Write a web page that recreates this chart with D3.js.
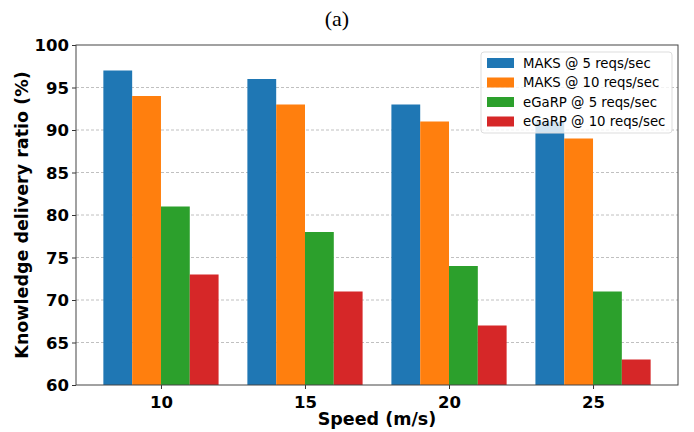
<!DOCTYPE html>
<html>
<head>
<meta charset="utf-8">
<script src="https://cdn.jsdelivr.net/npm/d3@7"></script>
<style>
  body { margin: 0; background: #fff; }
  svg { display: block; }
</style>
</head>
<body>
<div id="chart"></div>
<script>
const speeds = ["10", "15", "20", "25"];
const seriesNames = ["MAKS @ 5 reqs/sec", "MAKS @ 10 reqs/sec", "eGaRP @ 5 reqs/sec", "eGaRP @ 10 reqs/sec"];
const maks5 = [97, 96, 93, 91];
const maks10 = [94, 93, 91, 89];
const egarp5 = [81, 78, 74, 71];
const egarp10 = [73, 71, 67, 63];
const yTicks = [60, 65, 70, 75, 80, 85, 90, 95, 100];
const colors = ["#1f77b4", "#ff7f0e", "#2ca02c", "#d62728"];

const series = [maks5, maks10, egarp5, egarp10];

const W = 694, H = 432;
const margin = { top: 45, right: 16, bottom: 47, left: 76 };
const width = W - margin.left - margin.right,
    height = H - margin.top - margin.bottom;

const svg = d3.select("#chart").append("svg")
    .attr("width", W)
    .attr("height", H);

// title
svg.append("text")
    .attr("x", 337)
    .attr("y", 26)
    .attr("text-anchor", "middle")
    .style("font-family", "'Liberation Serif', 'DejaVu Serif', serif")
    .style("font-size", "22px")
    .text("(a)");

const g = svg.append("g")
    .attr("transform", "translate(" + margin.left + "," + margin.top + ")");

const barW = 0.2;
const x = d3.scaleLinear().domain([-0.59, 3.59]).range([0, width]);
const y = d3.scaleLinear().domain([60, 100]).range([height, 0]);

// grid
g.selectAll(".grid")
    .data(yTicks.slice(1, -1))
    .enter().append("line")
    .attr("x1", 0)
    .attr("x2", width)
    .attr("y1", d => y(d))
    .attr("y2", d => y(d))
    .attr("stroke", "#b0b0b0")
    .attr("stroke-width", 0.8)
    .attr("stroke-dasharray", "3,2");

// bars
series.forEach((vals, si) => {
    g.selectAll(".bar" + si)
        .data(vals)
        .enter().append("rect")
        .attr("x", (d, i) => x(i + (si - 2) * barW))
        .attr("width", x(barW) - x(0))
        .attr("y", d => y(d))
        .attr("height", d => y(60) - y(d))
        .attr("fill", colors[si]);
});

// axes
const xAxis = g.append("g")
    .attr("transform", "translate(0," + height + ")")
    .call(d3.axisBottom(x).tickValues([0, 1, 2, 3]).tickFormat((d, i) => speeds[i]).tickSize(4).tickPadding(4));

const yAxis = g.append("g")
    .call(d3.axisLeft(y).tickValues(yTicks).tickSize(4).tickPadding(3));

[xAxis, yAxis].forEach(ax => {
    ax.select(".domain").remove();
    ax.selectAll("line").attr("stroke", "#333");
    ax.selectAll("text")
        .style("font-family", "'DejaVu Sans', sans-serif")
        .style("font-size", "16.5px")
        .style("font-weight", "bold")
        .attr("fill", "#000");
});
yAxis.selectAll("text").attr("dy", "0.35em");
xAxis.selectAll("text").attr("dy", "0.9em");

// frame
g.append("rect")
    .attr("width", width)
    .attr("height", height)
    .attr("fill", "none")
    .attr("stroke", "#444")
    .attr("stroke-width", 1);

// axis labels
svg.append("text")
    .attr("x", margin.left + width / 2)
    .attr("y", 425)
    .attr("text-anchor", "middle")
    .style("font-family", "'DejaVu Sans', sans-serif")
    .style("font-size", "17.5px")
    .style("font-weight", "bold")
    .text("Speed (m/s)");

svg.append("text")
    .attr("transform", "translate(28," + (margin.top + height / 2) + ") rotate(-90)")
    .attr("text-anchor", "middle")
    .style("font-family", "'DejaVu Sans', sans-serif")
    .style("font-size", "17.5px")
    .style("font-weight", "bold")
    .text("Knowledge delivery ratio (%)");

// legend
const legend = svg.append("g").attr("transform", "translate(481,52)");
legend.append("rect")
    .attr("width", 191)
    .attr("height", 81)
    .attr("rx", 3)
    .attr("fill", "#fff")
    .attr("fill-opacity", 0.8)
    .attr("stroke", "#ddd");

seriesNames.forEach((name, i) => {
    const row = legend.append("g").attr("transform", "translate(0," + (11 + i * 19.5) + ")");
    row.append("rect")
        .attr("x", 6)
        .attr("y", -5)
        .attr("width", 27)
        .attr("height", 10)
        .attr("fill", colors[i]);
    row.append("text")
        .attr("x", 42)
        .attr("dy", "0.35em")
        .style("font-family", "'DejaVu Sans', sans-serif")
        .style("font-size", "13.3px")
        .text(name);
});
</script>
</body>
</html>
